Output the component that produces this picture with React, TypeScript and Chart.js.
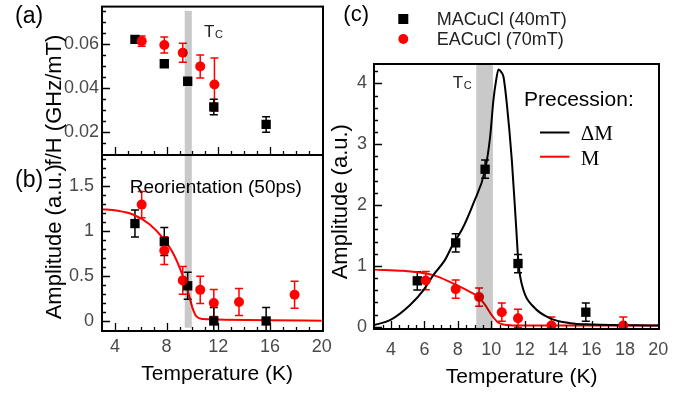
import React, { useEffect, useRef } from 'react';
import { Chart, registerables } from 'chart.js';

Chart.register(...registerables);

// ---------------- data ----------------
// panel (a): f/H vs temperature
const tempMA_a = [5.55, 7.82, 9.63, 11.65, 15.7];
const fhMA_a = [0.062, 0.051, 0.0431, 0.0315, 0.0236];
const fhMA_aErr = [0, 0, 0, 0.0035, 0.0035];
const tempEA_a = [6.07, 7.82, 9.25, 10.6, 11.7];
const fhEA_a = [0.0612, 0.0595, 0.056, 0.0498, 0.0416];
const fhEA_aErr = [0.0023, 0.0036, 0.0043, 0.0052, 0.012];

// panel (b): reorientation amplitude
const tempMA_b = [5.55, 7.82, 9.63, 11.65, 15.7];
const ampMA_b = [1.08, 0.88, 0.39, 0, 0];
const ampMA_bErr = [0.15, 0.155, 0.15, 0.15, 0.15];
const tempEA_b = [6.07, 7.82, 9.25, 10.6, 11.65, 13.6, 17.9];
const ampEA_b = [1.29, 0.78, 0.45, 0.345, 0.2, 0.21, 0.29];
const ampEA_bErr = [0.145, 0.155, 0.155, 0.15, 0.15, 0.15, 0.15];
const fitTemp_b = [3, 4.1, 5.4, 6.7, 7.7, 8.5, 9.17, 9.68, 10.06, 10.32, 10.83, 11.5, 12.5, 16, 20];
const fitAmp_b = [1.24, 1.225, 1.18, 1.07, 0.92, 0.75, 0.53, 0.31, 0.12, 0.048, 0.022, 0.018, 0.015, 0.008, 0.004];

// panel (c): precession amplitude
const tempMA_c = [5.57, 7.87, 9.63, 11.6, 15.66];
const ampMA_c = [0.756, 1.38, 2.59, 1.04, 0.24];
const ampMA_cErr = [0.15, 0.15, 0.15, 0.15, 0.15];
const tempEA_c = [6.08, 7.87, 9.27, 10.63, 11.6, 13.6, 17.9];
const ampEA_c = [0.76, 0.62, 0.49, 0.24, 0.14, 0.02, 0.02];
const ampEA_cErr = [0.15, 0.15, 0.15, 0.15, 0.15, 0.14, 0.14];
const fitTemp_dM = [3, 3.94, 5.14, 5.93, 6.53, 7.23, 7.73, 8.23, 8.93, 9.63, 9.93, 10.13, 10.29, 10.43, 10.59, 10.73, 10.93, 11.23, 11.49, 11.63, 11.93, 12.53, 13.52, 14.72, 16, 20];
const fitAmp_dM = [0.03, 0.11, 0.36, 0.6, 0.85, 1.1, 1.37, 1.59, 2.03, 2.58, 3.12, 3.73, 4.05, 4.23, 4.19, 4.11, 3.67, 2.74, 1.64, 1.04, 0.6, 0.33, 0.14, 0.06, 0.04, 0.02];
const fitTemp_M = [3, 4.74, 6.53, 7.73, 8.73, 9.23, 9.63, 10.03, 10.43, 10.8, 11.13, 12, 16, 20];
const fitAmp_M = [0.94, 0.92, 0.85, 0.71, 0.575, 0.49, 0.36, 0.19, 0.066, 0.035, 0.025, 0.02, 0.02, 0.02];

// Tc bands (K)
const tcBandAB = [9.4, 9.95];
const tcBandC = [9.1, 10.1];

// ticks
const xMajorAB = [4, 8, 12, 16, 20];
const yMajorA = [0.02, 0.04, 0.06];
const yMajorB = [0, 0.5, 1, 1.5];
const xMajorC = [4, 6, 8, 10, 12, 14, 16, 18, 20];
const yMajorC = [0, 1, 2, 3, 4];

const seriesLabels = ['MACuCl (40mT)', 'EACuCl (70mT)'];
const fitLabels = ['\u0394M', 'M'];

// ---------------- helpers ----------------
const W = 690;
const H = 394;
const SANS = '"Liberation Sans", Arial, sans-serif';
const SERIF = '"Liberation Serif", "Times New Roman", serif';
const TICK_COLOR = '#4a4a4a';
const RED = '#ff0000';

const pts = (xs: number[], ys: number[]) => xs.map((x, i) => ({ x, y: ys[i] }));

function minorValues(min: number, max: number, step: number) {
  const out: number[] = [];
  const start = Math.ceil(min / step - 1e-9);
  for (let k = start; k * step <= max + 1e-9; k++) out.push(+(k * step).toFixed(6));
  return out;
}

function maDataset(xs: number[], ys: number[], errs: number[]) {
  return {
    label: seriesLabels[0],
    data: pts(xs, ys),
    pointStyle: 'rect',
    pointRadius: 6.6,
    backgroundColor: '#000',
    borderWidth: 0,
    errors: errs,
    errorColor: '#000',
  };
}
function eaDataset(xs: number[], ys: number[], errs: number[]) {
  return {
    label: seriesLabels[1],
    data: pts(xs, ys),
    pointStyle: 'circle',
    pointRadius: 5,
    backgroundColor: RED,
    borderWidth: 0,
    errors: errs,
    errorColor: RED,
  };
}
function fitDataset(label: string, xs: number[], ys: number[], color: string) {
  return {
    label,
    data: pts(xs, ys),
    showLine: true,
    pointRadius: 0,
    borderColor: color,
    borderWidth: 2,
    cubicInterpolationMode: 'monotone',
    fill: false,
  };
}

function text(ctx: CanvasRenderingContext2D, s: string, x: number, y: number, size: number, opts: any = {}) {
  ctx.save();
  ctx.font = `${size}px ${opts.family || SANS}`;
  ctx.fillStyle = opts.color || '#000';
  ctx.textAlign = opts.align || 'left';
  ctx.textBaseline = opts.baseline || 'alphabetic';
  if (opts.rotate) {
    ctx.translate(x, y);
    ctx.rotate(-Math.PI / 2);
    ctx.fillText(s, 0, 0);
  } else {
    ctx.fillText(s, x, y);
  }
  ctx.restore();
}

interface Area { left: number; top: number; right: number; bottom: number }
interface PanelSpec {
  id: string;
  area: Area;
  xRange: [number, number];
  yRange: [number, number];
  xMajor: number[];
  xMinorStep: number;
  xLabels: boolean;
  xLabelPad: number;
  yMajor: number[];
  yMinorStep: number;
  yLabelPad: number;
  yFormat: (v: number) => string;
  datasets: any[];
  band: number[];
  bandY: [number, number];
  decorate: (ctx: CanvasRenderingContext2D, chart: any) => void;
}

function decoPlugin(spec: PanelSpec) {
  return {
    id: 'deco_' + spec.id,
    beforeDatasetsDraw(chart: any) {
      const ctx: CanvasRenderingContext2D = chart.ctx;
      const ca = chart.chartArea;
      const xs = chart.scales.x;
      const ys = chart.scales.y;
      ctx.save();
      ctx.beginPath();
      ctx.rect(ca.left, ca.top, ca.right - ca.left, ca.bottom - ca.top);
      ctx.clip();
      chart.data.datasets.forEach((ds: any) => {
        if (!ds.errors) return;
        ctx.strokeStyle = ds.errorColor;
        ctx.lineWidth = 1.5;
        ds.data.forEach((p: any, i: number) => {
          const e = ds.errors[i];
          if (!e) return;
          const px = xs.getPixelForValue(p.x);
          const y1 = ys.getPixelForValue(p.y + e);
          const y2 = ys.getPixelForValue(p.y - e);
          ctx.beginPath();
          ctx.moveTo(px, y1);
          ctx.lineTo(px, y2);
          ctx.moveTo(px - 4, y1);
          ctx.lineTo(px + 4, y1);
          ctx.moveTo(px - 4, y2);
          ctx.lineTo(px + 4, y2);
          ctx.stroke();
        });
      });
      ctx.restore();
    },
    afterDatasetsDraw(chart: any) {
      const ctx: CanvasRenderingContext2D = chart.ctx;
      const ca = chart.chartArea;
      const xs = chart.scales.x;
      const ys = chart.scales.y;
      // Tc band
      const bx1 = xs.getPixelForValue(spec.band[0]);
      const bx2 = xs.getPixelForValue(spec.band[1]);
      const by1 = Math.max(ca.top, ys.getPixelForValue(spec.bandY[1]));
      const by2 = Math.min(ca.bottom, ys.getPixelForValue(spec.bandY[0]));
      ctx.save();
      ctx.fillStyle = 'rgba(0,0,0,0.21)';
      ctx.fillRect(bx1, by1, bx2 - bx1, by2 - by1);
      ctx.restore();
      // ticks
      ctx.save();
      ctx.strokeStyle = '#000';
      ctx.lineWidth = 1.3;
      ctx.beginPath();
      minorValues(spec.xRange[0], spec.xRange[1], spec.xMinorStep).forEach((v) => {
        const px = Math.round(xs.getPixelForValue(v)) + 0.5;
        if (px <= ca.left + 1 || px >= ca.right - 1) return;
        const len = spec.xMajor.some((m) => Math.abs(m - v) < 1e-6) ? 8 : 4;
        ctx.moveTo(px, ca.bottom);
        ctx.lineTo(px, ca.bottom - len);
      });
      minorValues(spec.yRange[0], spec.yRange[1], spec.yMinorStep).forEach((v) => {
        const py = Math.round(ys.getPixelForValue(v)) + 0.5;
        if (py <= ca.top + 1 || py >= ca.bottom - 1) return;
        const len = spec.yMajor.some((m) => Math.abs(m - v) < 1e-6) ? 8 : 4;
        ctx.moveTo(ca.left, py);
        ctx.lineTo(ca.left + len, py);
      });
      ctx.stroke();
      // frame
      ctx.lineWidth = 2;
      ctx.strokeRect(ca.left, ca.top, ca.right - ca.left, ca.bottom - ca.top);
      ctx.restore();
      spec.decorate(ctx, chart);
    },
  };
}

function buildConfig(spec: PanelSpec): any {
  const yW = 60;
  const tickFont = { family: SANS, size: 18 };
  return {
    type: 'scatter',
    data: { datasets: spec.datasets },
    options: {
      responsive: false,
      maintainAspectRatio: false,
      animation: false,
      devicePixelRatio: 1,
      events: [],
      layout: {
        padding: { left: spec.area.left - yW, top: spec.area.top, right: W - spec.area.right, bottom: 0 },
      },
      plugins: { legend: { display: false }, tooltip: { enabled: false } },
      scales: {
        x: {
          type: 'linear',
          min: spec.xRange[0],
          max: spec.xRange[1],
          grid: { display: false, drawTicks: false },
          border: { display: false },
          ticks: {
            display: spec.xLabels,
            autoSkip: false,
            maxRotation: 0,
            minRotation: 0,
            padding: spec.xLabelPad,
            color: TICK_COLOR,
            font: tickFont,
            callback: (v: number) => String(v),
          },
          afterBuildTicks: (a: any) => {
            a.ticks = spec.xMajor.map((v) => ({ value: v }));
          },
          afterFit: (s: any) => {
            s.height = H - spec.area.bottom;
            s.paddingLeft = 0;
            s.paddingRight = 0;
            s.paddingTop = 0;
            s.paddingBottom = 0;
          },
        },
        y: {
          type: 'linear',
          min: spec.yRange[0],
          max: spec.yRange[1],
          grid: { display: false, drawTicks: false },
          border: { display: false },
          ticks: {
            autoSkip: false,
            padding: spec.yLabelPad,
            color: TICK_COLOR,
            font: tickFont,
            callback: (v: number) => spec.yFormat(v),
          },
          afterBuildTicks: (a: any) => {
            a.ticks = spec.yMajor.map((v) => ({ value: v }));
          },
          afterFit: (s: any) => {
            s.width = yW;
            s.paddingLeft = 0;
            s.paddingRight = 0;
            s.paddingTop = 0;
            s.paddingBottom = 0;
          },
        },
      },
    },
    plugins: [decoPlugin(spec)],
  };
}

function drawTc(ctx: CanvasRenderingContext2D, x: number, y: number) {
  text(ctx, 'T', x, y, 17, { color: '#222' });
  text(ctx, 'C', x + 11, y + 1, 11, { color: '#222' });
}

// ---------------- panel specs ----------------
const specA: PanelSpec = {
  id: 'a',
  area: { left: 102, top: 6, right: 323, bottom: 155 },
  xRange: [3, 20.1],
  yRange: [0.0098, 0.0768],
  xMajor: xMajorAB,
  xMinorStep: 1,
  xLabels: false,
  xLabelPad: 0,
  yMajor: yMajorA,
  yMinorStep: 0.005,
  yLabelPad: 3,
  yFormat: (v) => v.toFixed(2),
  datasets: [
    eaDataset(tempEA_a, fhEA_a, fhEA_aErr),
    maDataset(tempMA_a, fhMA_a, fhMA_aErr),
  ],
  band: tcBandAB,
  bandY: [0, 0.0749],
  decorate: (ctx) => {
    text(ctx, '(a)', 15, 23, 23);
    text(ctx, 'f/H (GHz/mT)', 55, 100, 22, { rotate: true, align: 'center', baseline: 'middle' });
    drawTc(ctx, 204, 36.7);
  },
};

const specB: PanelSpec = {
  id: 'b',
  area: { left: 102, top: 155, right: 323, bottom: 331 },
  xRange: [3, 20.1],
  yRange: [-0.111, 1.84],
  xMajor: xMajorAB,
  xMinorStep: 1,
  xLabels: true,
  xLabelPad: 5,
  yMajor: yMajorB,
  yMinorStep: 0.1,
  yLabelPad: 8,
  yFormat: (v) => String(v),
  datasets: [
    eaDataset(tempEA_b, ampEA_b, ampEA_bErr),
    maDataset(tempMA_b, ampMA_b, ampMA_bErr),
    fitDataset('fit', fitTemp_b, fitAmp_b, RED),
  ],
  band: tcBandAB,
  bandY: [-0.075, 2],
  decorate: (ctx) => {
    text(ctx, '(b)', 15, 187, 23);
    text(ctx, 'Amplitude (a.u.)', 55, 241.7, 22, { rotate: true, align: 'center', baseline: 'middle' });
    text(ctx, 'Reorientation (50ps)', 215.8, 192.5, 19, { align: 'center' });
    text(ctx, 'Temperature (K)', 217.2, 380, 21, { align: 'center' });
  },
};

const specC: PanelSpec = {
  id: 'c',
  area: { left: 374, top: 64, right: 659, bottom: 329 },
  xRange: [2.98, 20.04],
  yRange: [-0.036, 4.32],
  xMajor: xMajorC,
  xMinorStep: 0.5,
  xLabels: true,
  xLabelPad: 10,
  yMajor: yMajorC,
  yMinorStep: 0.2,
  yLabelPad: 7,
  yFormat: (v) => String(v),
  datasets: [
    eaDataset(tempEA_c, ampEA_c, ampEA_cErr),
    maDataset(tempMA_c, ampMA_c, ampMA_cErr),
    fitDataset(fitLabels[0], fitTemp_dM, fitAmp_dM, '#000'),
    fitDataset(fitLabels[1], fitTemp_M, fitAmp_M, RED),
  ],
  band: tcBandC,
  bandY: [-1, 5],
  decorate: (ctx, chart) => {
    const ds = chart.data.datasets;
    text(ctx, '(c)', 343.3, 21, 22);
    text(ctx, 'Amplitude (a.u.)', 341, 201.7, 22, { rotate: true, align: 'center', baseline: 'middle' });
    text(ctx, 'Temperature (K)', 521.7, 383.3, 21, { align: 'center' });
    drawTc(ctx, 452.7, 88.3);
    // marker legend (top)
    ctx.save();
    ctx.fillStyle = '#000';
    ctx.fillRect(403.3 - 5, 19 - 5, 10, 10);
    ctx.fillStyle = RED;
    ctx.beginPath();
    ctx.arc(403.3, 39, 5, 0, Math.PI * 2);
    ctx.fill();
    ctx.restore();
    text(ctx, ds[1].label, 436.7, 25, 18, { color: '#222' });
    text(ctx, ds[0].label, 436.7, 45, 18, { color: '#222' });
    // fit legend
    text(ctx, 'Precession:', 524, 106, 21);
    ctx.save();
    ctx.lineWidth = 2;
    ctx.strokeStyle = ds[2].borderColor;
    ctx.beginPath();
    ctx.moveTo(540, 132.5);
    ctx.lineTo(569.5, 132.5);
    ctx.stroke();
    ctx.strokeStyle = ds[3].borderColor;
    ctx.beginPath();
    ctx.moveTo(540, 156.7);
    ctx.lineTo(569.5, 156.7);
    ctx.stroke();
    ctx.restore();
    text(ctx, ds[2].label, 580.7, 139.5, 21, { family: SERIF });
    text(ctx, ds[3].label, 580.7, 165, 21, { family: SERIF });
  },
};

function Panel({ spec }: { spec: PanelSpec }) {
  const ref = useRef<HTMLCanvasElement>(null);
  useEffect(() => {
    const chart = new Chart(ref.current as HTMLCanvasElement, buildConfig(spec));
    return () => chart.destroy();
  }, [spec]);
  return (
    <canvas
      ref={ref}
      width={W}
      height={H}
      style={{ position: 'absolute', left: 0, top: 0, width: W, height: H }}
    />
  );
}

export default function App() {
  return (
    <div style={{ position: 'absolute', left: 0, top: 0, width: W, height: H, background: '#fff' }}>
      <Panel spec={specA} />
      <Panel spec={specB} />
      <Panel spec={specC} />
    </div>
  );
}
